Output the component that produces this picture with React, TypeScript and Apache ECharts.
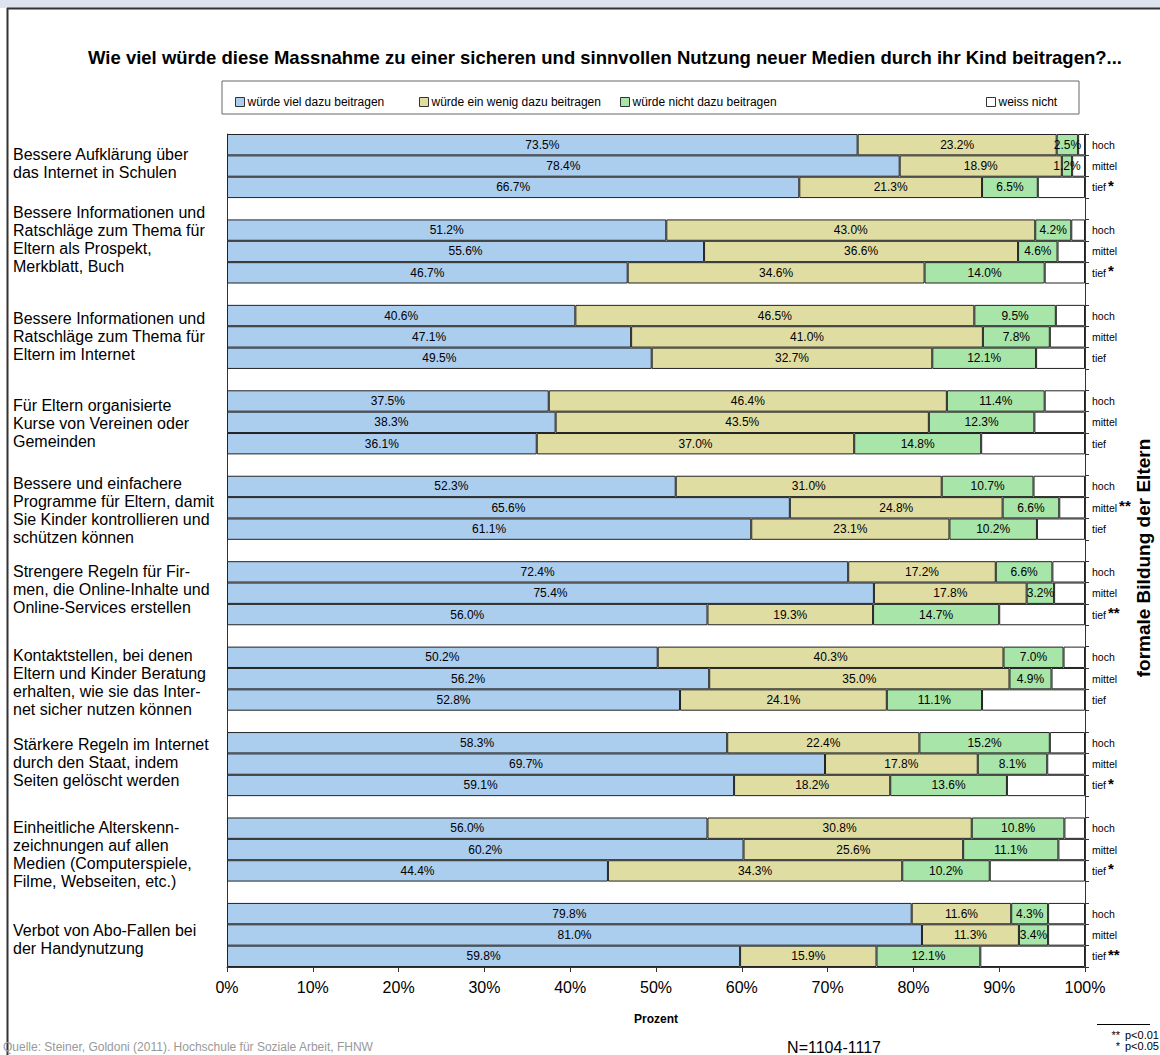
import React, { useEffect, useRef } from "react";
import * as echarts from "echarts";

const CATEGORIES = [
  "Bessere Aufklärung über\ndas Internet in Schulen",
  "Bessere Informationen und\nRatschläge zum Thema für\nEltern als Prospekt,\nMerkblatt, Buch",
  "Bessere Informationen und\nRatschläge zum Thema für\nEltern im Internet",
  "Für Eltern organisierte\nKurse von Vereinen oder\nGemeinden",
  "Bessere und einfachere\nProgramme für Eltern, damit\nSie Kinder kontrollieren und\nschützen können",
  "Strengere Regeln für Fir-\nmen, die Online-Inhalte und\nOnline-Services erstellen",
  "Kontaktstellen, bei denen\nEltern und Kinder Beratung\nerhalten, wie sie das Inter-\nnet sicher nutzen können",
  "Stärkere Regeln im Internet\ndurch den Staat, indem\nSeiten gelöscht werden",
  "Einheitliche Alterskenn-\nzeichnungen auf allen\nMedien (Computerspiele,\nFilme, Webseiten, etc.)",
  "Verbot von Abo-Fallen bei\nder Handynutzung",
];

const LEVELS = ["hoch", "mittel", "tief"];

const SERIES_NAMES = [
  "würde viel dazu beitragen",
  "würde ein wenig dazu beitragen",
  "würde nicht dazu beitragen",
  "weiss nicht",
];

// [hoch, mittel, tief] per measure
const VIEL = [
  [73.5, 78.4, 66.7],
  [51.2, 55.6, 46.7],
  [40.6, 47.1, 49.5],
  [37.5, 38.3, 36.1],
  [52.3, 65.6, 61.1],
  [72.4, 75.4, 56.0],
  [50.2, 56.2, 52.8],
  [58.3, 69.7, 59.1],
  [56.0, 60.2, 44.4],
  [79.8, 81.0, 59.8],
];
const WENIG = [
  [23.2, 18.9, 21.3],
  [43.0, 36.6, 34.6],
  [46.5, 41.0, 32.7],
  [46.4, 43.5, 37.0],
  [31.0, 24.8, 23.1],
  [17.2, 17.8, 19.3],
  [40.3, 35.0, 24.1],
  [22.4, 17.8, 18.2],
  [30.8, 25.6, 34.3],
  [11.6, 11.3, 15.9],
];
const NICHT = [
  [2.5, 1.2, 6.5],
  [4.2, 4.6, 14.0],
  [9.5, 7.8, 12.1],
  [11.4, 12.3, 14.8],
  [10.7, 6.6, 10.2],
  [6.6, 3.2, 14.7],
  [7.0, 4.9, 11.1],
  [15.2, 8.1, 13.6],
  [10.8, 11.1, 10.2],
  [4.3, 3.4, 12.1],
];
const WEISS = [
  [0.8, 1.5, 5.5],
  [1.6, 3.2, 4.7],
  [3.4, 4.1, 5.7],
  [4.7, 5.9, 12.1],
  [6.0, 3.0, 5.6],
  [3.8, 3.6, 10.0],
  [2.5, 3.9, 12.0],
  [4.1, 4.4, 9.1],
  [2.4, 3.1, 11.1],
  [4.3, 4.3, 12.2],
];
const STARS = [
  ["", "", "*"],
  ["", "", "*"],
  ["", "", ""],
  ["", "", ""],
  ["", "**", ""],
  ["", "", "**"],
  ["", "", ""],
  ["", "", "*"],
  ["", "", "*"],
  ["", "", "**"],
];

const X_TICK_SUFFIX = "%";

const COLORS = ["#abcdee", "#e0dda2", "#a8e5a8", "#ffffff"];
const FONT = "'Liberation Sans', Arial, sans-serif";

type Row = { g: number; l: number } | null;

export default function App() {
  const ref = useRef<HTMLDivElement>(null);

  useEffect(() => {
    document.body.style.margin = "0";
    if (!ref.current) return;
    const chart = echarts.init(ref.current, undefined, { renderer: "svg" });

    const rows: Row[] = [];
    CATEGORIES.forEach((_, g) => {
      LEVELS.forEach((__, l) => rows.push({ g, l }));
      if (g < CATEGORIES.length - 1) rows.push(null);
    });
    const rowIds = rows.map((r, i) => (r ? `${r.g}-${r.l}` : `gap-${i}`));
    const build = (arr: number[][]) =>
      rows.map((r) => (r ? arr[r.g][r.l] : "-"));

    const datasets = [VIEL, WENIG, NICHT, WEISS];

    const legendLefts = [230, 414, 615, 981];
    // vertical nudge of the left-hand category labels (px)
    const labelShift = [-3, -12, 0, 1, 3, -4, 4, -2, 5, 5];

    const baseGraphic: any[] = [
      { type: "rect", shape: { x: 0, y: 0, width: 1160, height: 8 }, style: { fill: "#dfe3f0" }, silent: true },
      { type: "line", shape: { x1: 7, y1: 8.5, x2: 1160, y2: 8.5 }, style: { stroke: "#333", lineWidth: 2 }, silent: true },
      { type: "line", shape: { x1: 7.5, y1: 8, x2: 7.5, y2: 1055 }, style: { stroke: "#333", lineWidth: 2 }, silent: true },
      {
        type: "text",
        x: 605,
        y: 57,
        style: {
          text: "Wie viel würde diese Massnahme zu einer sicheren und sinnvollen Nutzung neuer Medien durch ihr Kind beitragen?...",
          font: `bold 18.5px ${FONT}`,
          fill: "#000",
          textAlign: "center",
          textVerticalAlign: "middle",
        },
      },
      { type: "rect", shape: { x: 222, y: 81, width: 857, height: 33 }, style: { fill: "none", stroke: "#666", lineWidth: 1 }, silent: true, z: -1 },
      {
        type: "text",
        x: 1143,
        y: 558,
        rotation: Math.PI / 2,
        silent: true,
        style: {
          text: "formale Bildung der Eltern",
          font: `bold 19px ${FONT}`,
          fill: "#000",
          textAlign: "center",
          textVerticalAlign: "middle",
        },
      },
      {
        type: "text",
        x: 3,
        y: 1047,
        style: { text: "Quelle: Steiner, Goldoni (2011). Hochschule für Soziale Arbeit, FHNW", font: `12px ${FONT}`, fill: "#999", textVerticalAlign: "middle" },
      },
      {
        type: "text",
        x: 834,
        y: 1047,
        style: { text: "N=1104-1117", font: `16px ${FONT}`, fill: "#000", textAlign: "center", textVerticalAlign: "middle" },
      },
      { type: "line", shape: { x1: 1097, y1: 1024.5, x2: 1150, y2: 1024.5 }, style: { stroke: "#000", lineWidth: 1 }, silent: true },
      { type: "text", x: 1120, y: 1035, style: { text: "**", font: `11px ${FONT}`, fill: "#000", textAlign: "right", textVerticalAlign: "middle" } },
      { type: "text", x: 1125, y: 1035, style: { text: "p<0.01", font: `11px ${FONT}`, fill: "#000", textVerticalAlign: "middle" } },
      { type: "text", x: 1120, y: 1046, style: { text: "*", font: `11px ${FONT}`, fill: "#000", textAlign: "right", textVerticalAlign: "middle" } },
      { type: "text", x: 1125, y: 1046, style: { text: "p<0.05", font: `11px ${FONT}`, fill: "#000", textVerticalAlign: "middle" } },
    ];

    const option: any = {
      animation: false,
      textStyle: { fontFamily: FONT },
      grid: { left: 227, right: 75, top: 134, bottom: 88, containLabel: false },
      legend: SERIES_NAMES.map((n, i) => ({
        data: [n],
        left: legendLefts[i],
        top: 91,
        icon: "rect",
        itemWidth: 9,
        itemHeight: 9,
        itemGap: 5,
        selectedMode: false,
        itemStyle: { borderColor: "#333", borderWidth: 1 },
        textStyle: { fontSize: 12, color: "#000", fontFamily: FONT, padding: [0, 0, 0, -2] },
      })),
      xAxis: {
        type: "value",
        min: 0,
        max: 100,
        interval: 10,
        name: "Prozent",
        nameLocation: "middle",
        nameGap: 46,
        nameTextStyle: { fontSize: 12, fontWeight: "bold", color: "#000", fontFamily: FONT },
        axisLine: { show: true, lineStyle: { color: "#333", width: 1 } },
        axisTick: { show: true, length: 5, lineStyle: { color: "#333" } },
        splitLine: { show: false },
        axisLabel: {
          formatter: (v: number) => `${v}${X_TICK_SUFFIX}`,
          fontSize: 16,
          color: "#000",
          margin: 12,
          fontFamily: FONT,
        },
      },
      yAxis: [
        {
          type: "category",
          data: rowIds,
          inverse: true,
          position: "left",
          axisLine: { show: true, lineStyle: { color: "#333", width: 1 } },
          axisTick: { show: false },
          axisLabel: { show: false },
        },
        {
          type: "category",
          data: rowIds,
          inverse: true,
          position: "right",
          axisLine: { show: true, lineStyle: { color: "#333", width: 1 } },
          axisTick: { show: true, length: 4, lineStyle: { color: "#333" } },
          axisLabel: {
            interval: 0,
            align: "left",
            margin: 7,
            fontFamily: FONT,
            formatter: (_v: string, idx: number) => {
              const r = rows[idx];
              if (!r) return "";
              const s = STARS[r.g][r.l];
              return s ? `{n|${LEVELS[r.l]}}{s|${s}}` : `{n|${LEVELS[r.l]}}`;
            },
            rich: {
              n: { fontSize: 10.5, color: "#000", fontFamily: FONT },
              s: { fontSize: 15, fontWeight: "bold", color: "#000", padding: [0, 0, 4, 2], fontFamily: FONT },
            },
          },
        },
      ],
      series: datasets.map((arr, i) => ({
        type: "bar",
        name: SERIES_NAMES[i],
        stack: "total",
        yAxisIndex: 0,
        barWidth: "100%",
        barCategoryGap: "0%",
        data: build(arr),
        itemStyle: { color: COLORS[i], borderColor: "#222", borderWidth: 1 },
        emphasis: { disabled: true },
        label: {
          show: i < 3,
          position: "inside",
          fontSize: 12,
          color: "#000",
          fontFamily: FONT,
          formatter: (p: any) => `${Number(p.value).toFixed(1)}%`,
        },
      })),
      graphic: baseGraphic,
    };

    chart.setOption(option);

    const labelGraphics = CATEGORIES.map((text, g) => {
      const idx = rows.findIndex((r) => r !== null && r.g === g && r.l === 1);
      const y = chart.convertToPixel({ yAxisIndex: 0 }, rowIds[idx]) as number;
      return {
        type: "text",
        x: 13,
        y: y + labelShift[g],
        silent: true,
        style: {
          text,
          font: `16px ${FONT}`,
          lineHeight: 18,
          fill: "#000",
          textAlign: "left",
          textVerticalAlign: "middle",
        },
      };
    });
    chart.setOption({ graphic: baseGraphic.concat(labelGraphics) });

    return () => chart.dispose();
  }, []);

  return <div ref={ref} style={{ width: 1160, height: 1055 }} />;
}
